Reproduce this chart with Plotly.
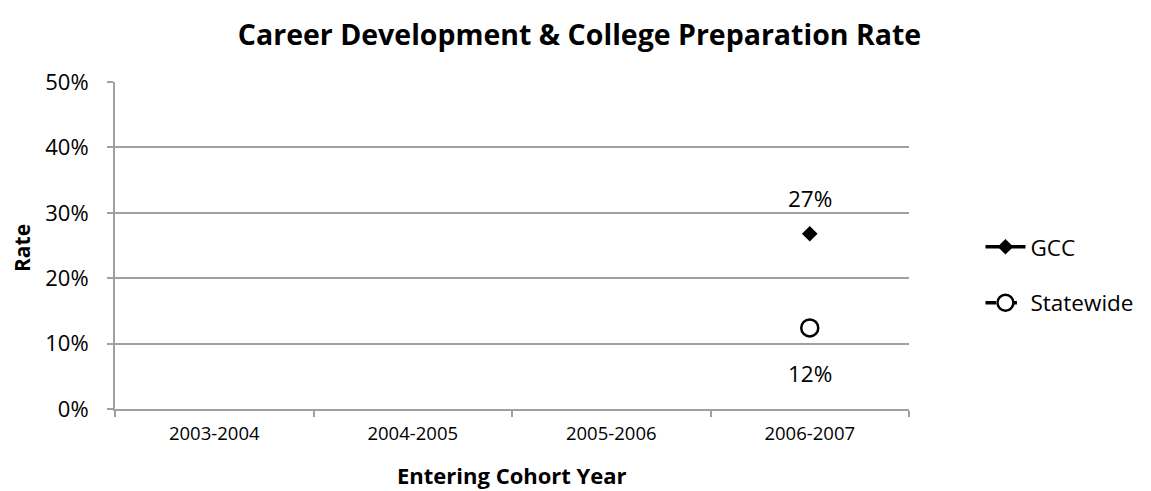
import plotly.graph_objects as go

categories = ["2003-2004", "2004-2005", "2005-2006", "2006-2007"]
gcc = [None, None, None, 0.268]
statewide = [None, None, None, 0.124]
y_ticks = [0, 0.1, 0.2, 0.3, 0.4, 0.5]
y_tick_labels = ["0%", "10%", "20%", "30%", "40%", "50%"]

FONT = "'Open Sans', sans-serif"
GRID = "#a0a0a0"

W, H = 1143, 483  # page has an 8px body margin
L, R, T, B = 107, 242, 74, 82
PW = W - L - R
PH = H - T - B

fig = go.Figure()
fig.add_trace(go.Scatter(
    x=categories, y=gcc, name="GCC", mode="lines+markers",
    line=dict(color="black", width=3.5),
    marker=dict(symbol="diamond", size=12, color="black"),
    legend="legend", showlegend=True,
))
fig.add_trace(go.Scatter(
    x=categories, y=statewide, name="Statewide", mode="lines+markers",
    line=dict(color="black", width=3.5, dash="dash"),
    marker=dict(symbol="circle", size=17, color="white", line=dict(color="black", width=2.5)),
    legend="legend2", showlegend=True,
))

for cat, v in zip(categories, gcc):
    if v is not None:
        fig.add_annotation(x=cat, y=v, text=f"{round(v*100)}%", showarrow=False,
                           yshift=35, font=dict(size=22.5, color="black", family=FONT))
for cat, v in zip(categories, statewide):
    if v is not None:
        fig.add_annotation(x=cat, y=v, text=f"{int(v*100)}%", showarrow=False,
                           yshift=-46, font=dict(size=22.5, color="black", family=FONT))

# axis titles
fig.add_annotation(text="<b>Entering Cohort Year</b>", xref="paper", yref="paper",
                   x=0.5, y=-(467 - (T + PH)) / PH, xanchor="center", yanchor="middle",
                   showarrow=False, font=dict(size=22, family=FONT, color="black"))
fig.add_annotation(text="<b>Rate</b>", xref="paper", yref="paper",
                   x=-(L - 14) / PW, y=(T + PH - 240) / PH, xanchor="center", yanchor="middle",
                   textangle=-90, showarrow=False, font=dict(size=21, family=FONT, color="black"))

fig.update_layout(
    width=W, height=H,
    margin=dict(l=L, r=R, t=T, b=B),
    paper_bgcolor="white", plot_bgcolor="white",
    font=dict(family=FONT, color="black"),
    title=dict(text="<b>Career Development & College Preparation Rate</b>",
               x=0.5, xref="container", xanchor="center", y=1 - 27 / H, yanchor="middle",
               font=dict(size=28.5, family=FONT, color="black")),
    xaxis=dict(
        type="category", categoryorder="array", categoryarray=categories,
        tickson="boundaries", ticks="outside", ticklen=6, tickcolor=GRID, tickwidth=2,
        showline=True, linecolor=GRID, linewidth=2, showgrid=False,
        tickfont=dict(size=18.5, family=FONT), range=[-0.5, 3.5],
        ticklabelstandoff=7,
    ),
    yaxis=dict(
        range=[0, 0.5], tickvals=y_ticks, ticktext=y_tick_labels,
        ticks="outside", ticklen=6, tickcolor=GRID, tickwidth=2,
        showline=True, linecolor=GRID, linewidth=2,
        showgrid=True, gridcolor=GRID, gridwidth=1.5, zeroline=False,
        tickfont=dict(size=22, family=FONT),
        ticklabelstandoff=14,
    ),
    legend=dict(x=1.09, y=0.495, xanchor="left", yanchor="middle",
                font=dict(size=22.5, family=FONT), bgcolor="rgba(0,0,0,0)", itemwidth=40),
    legend2=dict(x=1.09, y=0.324, xanchor="left", yanchor="middle",
                 font=dict(size=22.5, family=FONT), bgcolor="rgba(0,0,0,0)", itemwidth=40),
)

fig.write_html("out.html")
